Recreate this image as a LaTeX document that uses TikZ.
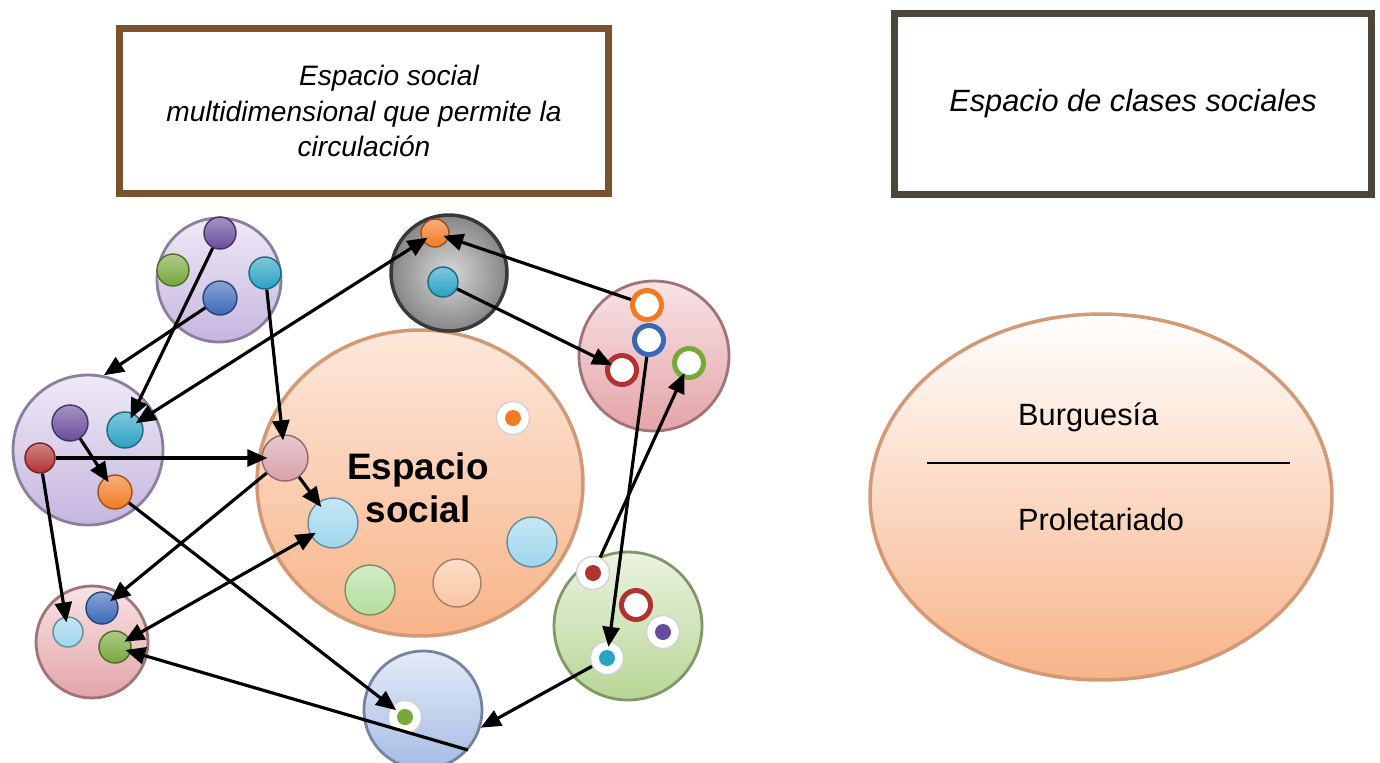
\documentclass[tikz,border=0pt]{standalone}
\usepackage{fontspec}
\setmainfont{Liberation Sans}
\usepackage{tikz}
\usetikzlibrary{shapes,arrows.meta,calc}

\definecolor{cpurple}{HTML}{6A4C9C}
\definecolor{cgreen}{HTML}{76A83A}
\definecolor{cblue}{HTML}{3A68B8}
\definecolor{cteal}{HTML}{2AA2C4}
\definecolor{cred}{HTML}{B23232}
\definecolor{corange}{HTML}{F27A22}
\definecolor{clblue}{HTML}{9ED6EC}
\definecolor{clgreen}{HTML}{B4DE9E}
\definecolor{clorange}{HTML}{FAC6A2}
\definecolor{cpink}{HTML}{D8A2AC}
\definecolor{blilac}{HTML}{C6B6E0}
\definecolor{brose}{HTML}{E4A4A8}
\definecolor{bsage}{HTML}{B8D696}
\definecolor{bsky}{HTML}{A4BCE4}
\definecolor{bpeach}{HTML}{F8B388}
\definecolor{framebrown}{HTML}{7A5230}
\definecolor{framegray}{HTML}{4D473A}

\begin{document}
\begin{tikzpicture}[x=0.02cm,y=-0.02cm,>={Triangle[length=0.4cm,width=0.34cm]},
    bubble/.style={circle,inner sep=0pt,draw=#1!70!black,line width=1.6pt,
                   top color=#1!30!white,bottom color=#1},
    dot/.style={circle,inner sep=0pt,minimum size=0.64cm,draw=#1!65!black,
                line width=0.8pt,top color=#1!60!white,bottom color=#1},
    ring/.style={circle,inner sep=0pt,minimum size=0.58cm,draw=#1,
                 line width=0.1cm,fill=white},
    pin/.style={circle,inner sep=0pt,minimum size=0.66cm,fill=white,
                draw=gray!35,line width=0.8pt,
                path picture={\fill[#1] (path picture bounding box.center) circle (0.16cm);}},
    title/.style={rectangle,line width=0.14cm,fill=white,align=center,
                  font=\itshape\fontsize{16}{20}\selectfont},
    arr/.style={->,line width=1.8pt,shorten >=-0.12cm}]

  \useasboundingbox (0,0) rectangle (1380,762);

  % titles
  \node[title,draw=framebrown,minimum width=9.8cm,minimum height=3.3cm] (leftbox) at (364,111)
       {\hspace*{1cm}Espacio social\\multidimensional que permite la\\circulación};
  \node[title,draw=framegray,minimum width=9.54cm,minimum height=3.62cm,
        font=\itshape\fontsize{17.5}{21}\selectfont] (rightbox) at (1133,104)
       {Espacio de clases sociales};

  % social space (left)
  \node[ellipse,inner sep=0pt,minimum width=6.52cm,minimum height=6.12cm,draw=bpeach!85!black,
        line width=2pt,top color=bpeach!30!white,bottom color=bpeach] (big) at (420,483) {};
  \node[font=\bfseries\fontsize{21}{24.4}\selectfont,align=center] (bigtext) at (418,488)
       {Espacio\\social};

  \node[bubble=blilac,minimum size=2.48cm] (pptop) at (219,280) {};
  \node[bubble=blilac,minimum size=3.0cm] (ppleft) at (88,450) {};
  \node[circle,inner sep=0pt,minimum size=2.32cm,draw=gray!45!black,line width=2pt,
        inner color=gray!30,outer color=gray!95] (grey) at (449,273) {};
  \node[bubble=brose,minimum size=3.0cm] (redr) at (654,356) {};
  \node[bubble=bsage,minimum size=2.96cm] (greenb) at (628,626) {};
  \node[bubble=bsky,minimum size=2.36cm] (blueb) at (423,710) {};
  \node[bubble=brose,minimum size=2.24cm] (pinkbl) at (92,642) {};

  % dots
  \node[dot=cpurple] (tpur) at (220,233) {};
  \node[dot=cgreen] (tgrn) at (173,270) {};
  \node[dot=cblue,minimum size=0.68cm] (tblu) at (220,298) {};
  \node[dot=cteal] (ttea) at (265,273) {};

  \node[dot=cpurple,minimum size=0.72cm] (lpur) at (70,423) {};
  \node[dot=cteal,minimum size=0.72cm] (ltea) at (125,430) {};
  \node[dot=cred,minimum size=0.6cm] (lred) at (40,458) {};
  \node[dot=corange,minimum size=0.68cm] (lora) at (115,492) {};

  \node[dot=cpink,minimum size=0.92cm] (spk) at (285,458) {};
  \node[pin=corange] (borg) at (513,418) {};
  \node[dot=clblue,minimum size=1.0cm] (bblu) at (333,523) {};
  \node[dot=clblue,minimum size=1.0cm] (bblr) at (532,542) {};
  \node[dot=clgreen,minimum size=1.0cm] (bgrn) at (370,590) {};
  \node[dot=clorange,minimum size=0.96cm] (bora) at (457,583) {};

  \node[dot=corange,minimum size=0.56cm] (gora) at (435,233) {};
  \node[dot=cteal,minimum size=0.6cm] (gtea) at (443,282) {};

  \node[ring=corange] (rora) at (647,305) {};
  \node[ring=cblue] (rblu) at (649,340) {};
  \node[ring=cred] (rred) at (622,370) {};
  \node[ring=cgreen] (rgrn) at (689,363) {};

  \node[pin=cred] (gred) at (593,573) {};
  \node[ring=cred] (gring) at (636,605) {};
  \node[pin=cpurple] (gpur) at (663,632) {};
  \node[pin=cteal] (gblu) at (607,658) {};

  \node[pin=cgreen] (bgpin) at (405,717) {};
  \coordinate (bfree) at (468,750);

  \node[dot=clblue,minimum size=0.6cm] (kblu) at (68,632) {};
  \node[dot=cblue] (kdb) at (102,608) {};
  \node[dot=cgreen] (kgrn) at (115,647) {};

  % movements
  \path[arr] (tpur) edge (ltea)
             (tblu) edge[shorten >=0pt] (ppleft.78)
             (ttea) edge (spk)
             (ltea) edge[<->,shorten <=-0.12cm] (gora)
             (rora) edge (gora)
             (gtea) edge (rred)
             (rblu) edge (gblu)
             (gred) edge (rgrn)
             (gblu) edge[shorten >=0pt] (blueb.-17)
             (lred) edge (spk)
             (lpur) edge (lora)
             (lred) edge (kblu)
             (spk)  edge (bblu)
             (spk)  edge (kdb)
             (kgrn) edge[<->,shorten <=-0.12cm] (bblu)
             (lora) edge (bgpin)
             (bfree) edge (kgrn);

  % class space (right)
  \node[ellipse,inner sep=0pt,minimum width=9.24cm,minimum height=7.32cm,draw=bpeach!85!black,
        line width=2pt,top color=white,bottom color=bpeach] (classes) at (1101,497) {};
  \draw[line width=1pt] (927,463) -- (1290,463);
  \node[anchor=base west,font=\fontsize{17.5}{21}\selectfont] (burg) at (1012,425) {Burguesía};
  \node[anchor=base west,font=\fontsize{17.5}{21}\selectfont] (prol) at (1012,530) {Proletariado};
\end{tikzpicture}
\end{document}
